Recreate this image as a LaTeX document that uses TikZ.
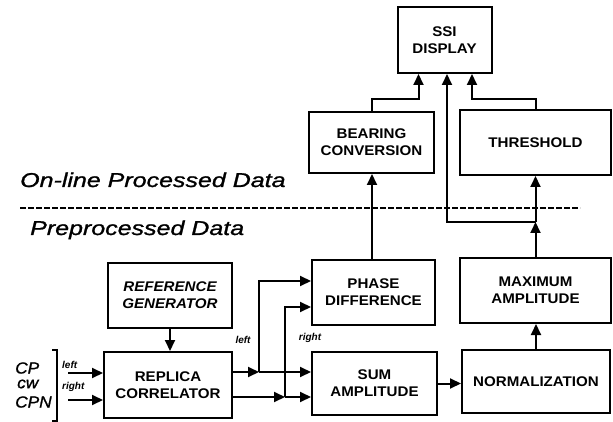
\documentclass[tikz,border=0pt]{standalone}
\usepackage{fontspec}
\setmainfont{Liberation Sans}
\newfontfamily\boxfont[FakeStretch=1.08]{Liberation Sans}
\newfontfamily\labfont[FakeStretch=1.25,FakeBold=1.2]{Liberation Sans}
\newfontfamily\sigfont[FakeStretch=1.08,FakeBold=1.2]{Liberation Sans}
\usetikzlibrary{arrows.meta,calc}
\begin{document}
\begin{tikzpicture}[x=1pt,y=-1pt,
  blk/.style={draw,line width=2pt,inner sep=0pt,align=center,
    font=\boxfont\bfseries\fontsize{14}{17}\selectfont},
  conn/.style={line width=2pt},
  arr/.style={conn,-{Triangle[length=11pt,width=10pt]}},
  tiny/.style={font=\bfseries\itshape\fontsize{10}{12}\selectfont,inner sep=0pt},
  sig/.style={font=\sigfont\itshape\fontsize{16}{18}\selectfont,inner sep=0pt,anchor=west},
  region/.style={font=\labfont\itshape\fontsize{20}{24}\selectfont,inner sep=0pt,anchor=base west}]
\useasboundingbox (0,0) rectangle (613,422);
% boxes
\node[blk,minimum width=94pt,minimum height=66pt] (ssi) at (444.5,40) {SSI\\DISPLAY};
\node[blk,minimum width=125pt,minimum height=61pt] (bear) at (371.5,142.5) {BEARING\\CONVERSION};
\node[blk,minimum width=151pt,minimum height=65pt] (thr) at (535.5,142.5) {THRESHOLD};
\node[blk,minimum width=123pt,minimum height=65pt] (phase) at (373.5,292.5) {PHASE\\DIFFERENCE};
\node[blk,minimum width=151pt,minimum height=65pt] (maxa) at (535.5,290.5) {MAXIMUM\\AMPLITUDE};
\node[blk,minimum width=125pt,minimum height=63pt] (sum) at (374.5,383.5) {SUM\\AMPLITUDE};
\node[blk,minimum width=148pt,minimum height=63pt] (norm) at (536,381.5) {NORMALIZATION};
\node[blk,minimum width=124pt,minimum height=65pt,font=\boxfont\bfseries\itshape\fontsize{14}{17}\selectfont] (ref) at (170,295.5) {REFERENCE\\GENERATOR};
\node[blk,minimum width=128pt,minimum height=66pt] (rep) at (168,385) {REPLICA\\CORRELATOR};
% region labels and divider
\node[region] (online) at (20,187) {On-line Processed Data};
\node[region] (pre) at (30,235) {Preprocessed Data};
\coordinate (dL) at (20,208);
\coordinate (dR) at (580,208);
\draw[line width=2.5pt,dash pattern=on 6pt off 2pt] (dL) -- (dR);
% inputs
\node[sig] (cp) at (15,368) {CP};
\node[sig] (cw) at (17,384) {cw};
\node[sig] (cpn) at (15,402) {CPN};
\coordinate (b1) at (52,350);
\coordinate (b2) at (57,350);
\coordinate (b3) at (57,421);
\coordinate (b4) at (52,421);
\draw[line width=1.2pt] (b1) -- (b2) -- (b3) -- (b4);
\node[tiny,anchor=west] (lin) at (62,365) {left};
\node[tiny,anchor=west] (rin) at (62,387) {right};
\coordinate (iL) at (68,373);
\coordinate (iR) at (68,400);
\draw[arr] (iL) -- (iL -| rep.west);
\draw[arr] (iR) -- (iR -| rep.west);
\draw[arr] (ref.south) -- (ref.south |- rep.north);
% replica outputs
\coordinate (bL) at (259,372);
\coordinate (bR) at (285,397);
\draw[arr] (rep.east |- bL) -- (bL);
\draw[arr] (bL) -- (bL -| sum.west);
\draw[arr] (bL) |- ([yshift=11.5pt]phase.west);
\draw[arr] (rep.east |- bR) -- (bR);
\draw[arr] (bR) -- (bR -| sum.west);
\draw[arr] (bR) |- ([yshift=-14.5pt]phase.west);
\node[tiny] (lmid) at (243,340) {left};
\node[tiny] (rmid) at (310,338) {right};
% processing chain
\draw[arr] (sum.east) -- (sum.east -| norm.west);
\draw[arr] (norm.north) -- (norm.north |- maxa.south);
\coordinate (J) at (535.5,222);
\draw[arr] (maxa.north) -- (J);
\draw[arr] (J) -- (thr.south);
\draw[arr] (J) -| ([xshift=2.5pt]ssi.south);
\draw[arr] (phase.north -| 372,0) -- (bear.south -| 372,0);
\draw[arr] (bear.north) -- ++(0,-12) -| ([xshift=-26pt]ssi.south);
\draw[arr] (thr.north) -- ++(0,-10) -| ([xshift=27.5pt]ssi.south);
\end{tikzpicture}
\end{document}
